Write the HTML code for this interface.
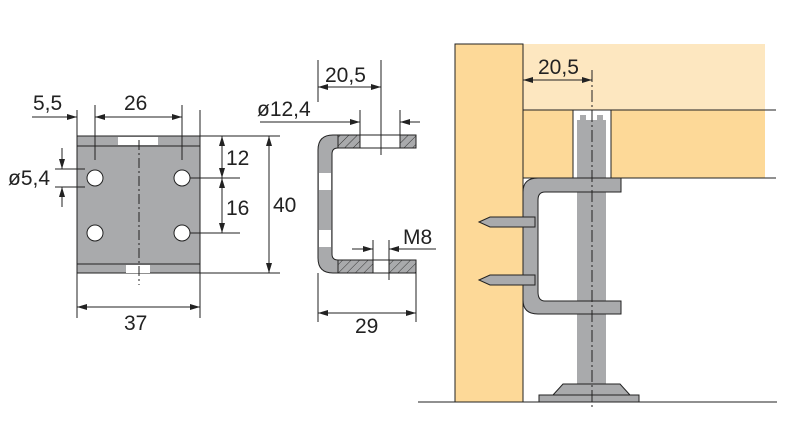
<!DOCTYPE html>
<html><head><meta charset="utf-8"><style>
body{margin:0;background:#fff}
svg{display:block}
text{font-family:"Liberation Sans",sans-serif;font-size:21px;fill:#222}
</style></head><body>
<svg width="800" height="438" viewBox="0 0 800 438" xmlns="http://www.w3.org/2000/svg">
<defs>
<marker id="a" viewBox="0 0 10 6" refX="10" refY="3" markerWidth="10" markerHeight="6" orient="auto-start-reverse"><path d="M0,0L10,3L0,6z" fill="#222"/></marker>
<pattern id="h" width="6" height="6" patternUnits="userSpaceOnUse" patternTransform="rotate(45)"><rect width="6" height="6" fill="#a9aaac"/><line x1="0" y1="0" x2="0" y2="6" stroke="#333" stroke-width="1"/></pattern>
</defs>
<g stroke="#222" stroke-width="1" fill="none">
<rect x="77" y="136" width="123" height="137" fill="#a9aaac"/>
<line x1="77" y1="146" x2="200" y2="146"/><line x1="77" y1="264" x2="200" y2="264"/>
<rect x="118" y="137" width="40" height="8" fill="#fff" stroke="none"/>
<rect x="126" y="265" width="24" height="8" fill="#fff" stroke="none"/>
<line x1="139" y1="140" x2="139" y2="285" stroke-dasharray="10,3,2,3"/>
<g fill="#fff"><circle cx="95" cy="178" r="8"/><circle cx="182" cy="178" r="8"/><circle cx="95" cy="233" r="8"/><circle cx="182" cy="233" r="8"/></g>
<line x1="77" y1="110" x2="77" y2="318"/><line x1="200" y1="110" x2="200" y2="318"/>
<line x1="95" y1="105" x2="95" y2="160"/><line x1="182" y1="105" x2="182" y2="160"/>
<line x1="32" y1="117" x2="77" y2="117" marker-end="url(#a)"/>
<line x1="95" y1="117" x2="182" y2="117" marker-start="url(#a)" marker-end="url(#a)"/>
<line x1="55" y1="169" x2="85" y2="169"/><line x1="55" y1="187" x2="85" y2="187"/>
<line x1="62" y1="148" x2="62" y2="169" marker-end="url(#a)"/><line x1="62" y1="207" x2="62" y2="187" marker-end="url(#a)"/>
<line x1="190" y1="178" x2="240" y2="178"/><line x1="190" y1="233" x2="240" y2="233"/>
<line x1="200" y1="136" x2="280" y2="136"/><line x1="200" y1="273" x2="280" y2="273"/>
<line x1="222" y1="136" x2="222" y2="178" marker-start="url(#a)" marker-end="url(#a)"/>
<line x1="222" y1="178" x2="222" y2="233" marker-start="url(#a)" marker-end="url(#a)"/>
<line x1="269" y1="136" x2="269" y2="273" marker-start="url(#a)" marker-end="url(#a)"/>
<line x1="77" y1="307" x2="200" y2="307" marker-start="url(#a)" marker-end="url(#a)"/>
<path d="M416,135 H333 Q318,135 318,150 V258 Q318,273 333,273 H416 V260 H338 Q332,260 332,254 V154 Q332,148 338,148 H416 Z" fill="#a9aaac"/>
<rect x="338" y="135" width="78" height="13" fill="url(#h)"/>
<rect x="338" y="260" width="78" height="13" fill="url(#h)"/>
<rect x="360" y="135" width="40" height="13" fill="#fff"/>
<rect x="373" y="260" width="16" height="13" fill="#fff"/>
<rect x="319" y="173" width="12" height="17" fill="#fff" stroke="none"/>
<rect x="319" y="230" width="12" height="17" fill="#fff" stroke="none"/>
<line x1="318" y1="102" x2="318" y2="60"/><line x1="381" y1="60" x2="381" y2="155"/>
<line x1="318" y1="87" x2="381" y2="87" marker-start="url(#a)" marker-end="url(#a)"/>
<line x1="360" y1="110" x2="360" y2="135"/><line x1="400" y1="110" x2="400" y2="135"/>
<line x1="260" y1="122" x2="360" y2="122" marker-end="url(#a)"/><line x1="420" y1="122" x2="400" y2="122" marker-end="url(#a)"/>
<line x1="373" y1="240" x2="373" y2="260"/><line x1="389" y1="240" x2="389" y2="280"/>
<line x1="352" y1="249" x2="373" y2="249" marker-end="url(#a)"/><line x1="436" y1="249" x2="389" y2="249" marker-end="url(#a)"/>
<line x1="318" y1="273" x2="318" y2="322"/><line x1="416" y1="273" x2="416" y2="322"/>
<line x1="318" y1="313" x2="416" y2="313" marker-start="url(#a)" marker-end="url(#a)"/>
<rect x="523" y="44" width="242" height="66" fill="#fde7c0" stroke="none"/>
<rect x="523" y="110" width="242" height="68" fill="#fdd998" stroke="none"/>
<rect x="455" y="44" width="68" height="358" fill="#fdd998"/>
<line x1="523" y1="110" x2="776" y2="110"/><line x1="523" y1="178" x2="776" y2="178"/>
<rect x="573" y="110" width="38" height="68" fill="#fff"/>
<rect x="577" y="120" width="29" height="265" fill="#a9aaac" stroke="none"/>
<rect x="580" y="115" width="6" height="12" fill="#a9aaac" stroke="none"/>
<rect x="597" y="115" width="6" height="12" fill="#a9aaac" stroke="none"/>
<path d="M523,178 H621 V192 H545 Q538,192 538,200 V292 Q538,301 545,301 H621 V314 H538 Q523,314 523,300 V192 Q523,178 538,178 Z" fill="#a9aaac"/>
<path d="M553,395 L563,384 H620 L630,395 Z" fill="#a9aaac"/>
<rect x="539" y="395" width="100" height="7" fill="#a9aaac"/>
<g fill="#a9aaac"><path d="M479,222 L490,217 H535 V227 H490 Z"/><path d="M479,280 L490,275 H535 V285 H490 Z"/></g>
<line x1="418" y1="402" x2="777" y2="402"/>
<line x1="592" y1="70" x2="592" y2="408" stroke-dasharray="12,3,2,3"/>
<line x1="523" y1="80" x2="592" y2="80" marker-start="url(#a)" marker-end="url(#a)"/>
</g>
<text x="33" y="110">5,5</text><text x="124" y="110">26</text>
<text x="8" y="185">ø5,4</text><text x="226" y="165">12</text><text x="226" y="215">16</text>
<text x="273" y="212">40</text><text x="124" y="330">37</text>
<text x="325" y="82">20,5</text><text x="257" y="116">ø12,4</text>
<text x="403" y="244">M8</text><text x="355" y="333">29</text>
<text x="538" y="74">20,5</text>
</svg>
</body></html>
